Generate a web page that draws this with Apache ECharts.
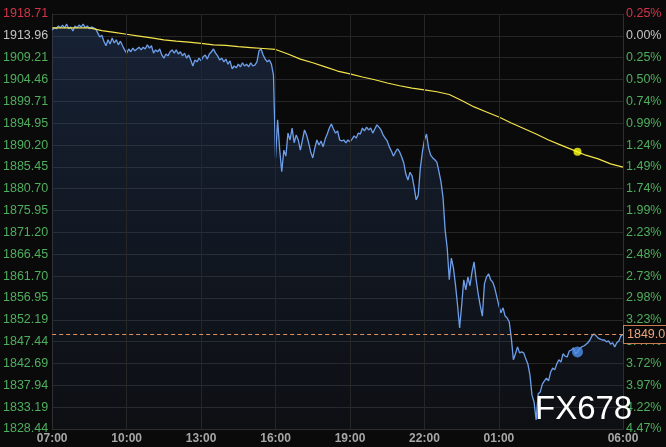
<!DOCTYPE html>
<html>
<head>
<meta charset="utf-8">
<script src="https://cdn.jsdelivr.net/npm/echarts@6/dist/echarts.min.js"></script>
<style>
html,body{margin:0;padding:0;background:#0a0a0a;}
#c{width:666px;height:447px;}
</style>
</head>
<body>
<div id="c"></div>
<script>
// ---- data ----
const startLabel = '07:00';
const priceStepMin = 5;          // one value every 5 minutes from 07:00
const priceVals = [
1915.2,1915.7,1915.5,1916.1,1915.7,1916.3,1915.7,1916.5,1915.5,1915.9,
1915.0,1916.1,1915.7,1916.3,1915.9,1916.5,1915.7,1916.1,1915.5,1915.9,
1915.7,1915.5,1914.6,1913.7,1914.1,1912.8,1911.8,1913.1,1912.2,1913.5,
1912.4,1913.1,1912.0,1912.8,1911.8,1910.9,1910.2,1911.1,1910.5,1911.3,
1910.7,1911.1,1911.5,1910.9,1911.5,1911.1,1912.0,1911.3,1911.8,1910.2,
1910.9,1910.5,1911.1,1909.8,1909.1,1910.0,1909.6,1910.5,1910.9,1910.2,
1910.9,1910.0,1910.5,1909.6,1910.2,1909.1,1909.8,1908.7,1907.4,1908.7,
1908.3,1909.1,1908.5,1909.4,1909.8,1908.9,1910.0,1910.5,1911.1,1910.2,
1909.6,1908.7,1909.1,1908.3,1908.9,1907.8,1908.5,1906.8,1907.4,1907.0,
1907.8,1907.2,1908.1,1907.4,1907.8,1907.2,1908.1,1907.4,1907.6,1908.3,
1910.7,1911.1,1909.8,1908.9,1908.3,1908.7,1907.8,1905.4,1887.4,1895.7,
1889.2,1884.4,1889.1,1887.8,1892.8,1891.3,1893.9,1890.7,1892.4,1891.3,
1889.1,1891.3,1893.5,1892.4,1890.7,1888.7,1887.4,1889.6,1891.3,1890.2,
1891.1,1889.8,1891.5,1892.6,1893.9,1894.8,1893.7,1892.8,1893.3,1891.3,
1891.1,1891.3,1890.7,1891.3,1890.9,1891.5,1892.2,1891.7,1892.8,1892.6,
1893.9,1893.3,1894.1,1893.5,1893.9,1892.8,1893.7,1894.6,1894.1,1893.5,
1892.4,1891.7,1891.1,1889.8,1888.9,1887.8,1888.7,1889.4,1888.7,1887.6,
1886.3,1883.9,1882.6,1884.3,1883.5,1881.1,1878.3,1879.3,1885.2,1888.7,
1891.3,1892.6,1889.6,1888.0,1887.4,1887.0,1886.5,1884.4,1882.2,1878.7,
1871.7,1867.8,1860.9,1865.6,1863.5,1859.8,1855.4,1850.4,1855.4,1860.9,
1858.7,1861.5,1859.6,1862.6,1864.8,1860.9,1857.8,1855.2,1853.0,1860.0,
1861.5,1862.2,1860.9,1860.4,1859.1,1857.2,1855.2,1853.7,1854.8,1853.0,
1852.6,1851.7,1848.2,1843.5,1844.8,1846.3,1845.0,1845.2,1845.0,1843.7,
1842.6,1840.2,1835.8,1834.3,1830.4,1836.1,1836.5,1838.2,1838.9,1839.5,
1838.9,1840.8,1841.7,1841.3,1842.6,1843.5,1843.0,1844.8,1844.3,1844.1,
1845.4,1845.6,1846.1,1844.8,1845.2,1845.9,1846.3,1846.5,1846.8,1847.2,
1847.8,1848.7,1849.1,1848.7,1848.2,1848.0,1847.8,1847.8,1847.4,1847.6,
1846.9,1847.2,1846.3,1847.2,1847.6,1848.7,1849.0
];
const avgStepMin = 30;           // average line, one value every 30 minutes
const avgVals = [
1915.7,1915.7,1915.7,1915.7,1915.1,1914.7,1914.3,1913.9,1913.5,1913.1,
1912.8,1912.6,1912.3,1912.0,1911.9,1911.6,1911.4,1911.2,1911.0,1910.0,
1908.9,1908.1,1907.2,1906.3,1905.7,1905.0,1904.4,1903.7,1903.1,1902.6,
1902.2,1901.8,1901.2,1899.9,1898.5,1897.4,1896.3,1895.0,1893.8,1892.6,
1891.3,1890.2,1889.1,1888.0,1887.2,1886.1,1885.4
];
const cursorMinute = 1270;       // hover position (≈04:10)
const lastLabel = '1849.07';

const yMin = 1828.44, yMax = 1918.71, ySteps = 19;
const leftTicks = ['1828.44','1833.19','1837.94','1842.69','1847.44','1852.19','1856.95','1861.70','1866.45','1871.20',
                   '1875.95','1880.70','1885.45','1890.20','1894.95','1899.71','1904.46','1909.21','1913.96','1918.71'];
const rightTicks = ['4.47%','4.22%','3.97%','3.72%','3.47%','3.23%','2.98%','2.73%','2.48%','2.23%',
                    '1.99%','1.74%','1.49%','1.24%','0.99%','0.74%','0.50%','0.25%','0.00%','0.25%'];
const xMax = 1380;
const xTickMinutes = [0,180,360,540,720,900,1080,1380];
const xTickLabels = ['07:00','10:00','13:00','16:00','19:00','22:00','01:00','06:00'];

// ---- build ----
const priceData = priceVals.map((v,i)=>[i*priceStepMin, v]);
const avgData = avgVals.map((v,j)=>[j*avgStepMin, v]);
const lastPrice = priceVals[priceVals.length-1];
const cursorPrice = priceVals[Math.round(cursorMinute/priceStepMin)];
const ja = Math.floor(cursorMinute/avgStepMin);
const fr = (cursorMinute - ja*avgStepMin)/avgStepMin;
const cursorAvg = avgVals[ja] + fr*(avgVals[ja+1]-avgVals[ja]);
const yStep = (yMax-yMin)/ySteps;
const idxOf = v => Math.round((parseFloat(v)-yMin)/yStep);
const labelColor = v => { const i = idxOf(v); return i===ySteps ? '#d4344a' : (i===ySteps-1 ? '#c4c4c4' : '#4fae5e'); };
const FONT = 'Liberation Sans, Arial, sans-serif';

const chart = echarts.init(document.getElementById('c'));
chart.setOption({
  backgroundColor: '#0a0a0a',
  animation: false,
  grid: {left: 52, right: 43, top: 14, bottom: 18},
  xAxis: {
    type: 'value', min: 0, max: xMax, interval: 60,
    axisLine: {show: true, lineStyle: {color: '#2e2e2e'}},
    axisTick: {show: false},
    splitLine: {show: false},
    axisLabel: {
      margin: 4, fontSize: 12, fontWeight: 'bold', color: '#a6a6a6', fontFamily: FONT,
      formatter: v => { const i = xTickMinutes.indexOf(Math.round(v)); return i>=0 ? xTickLabels[i] : ''; }
    }
  },
  yAxis: [{
    type: 'value', min: yMin, max: yMax, interval: yStep, position: 'left',
    axisLine: {show: true, lineStyle: {color: '#2e2e2e'}},
    axisTick: {show: false},
    splitLine: {show: true, lineStyle: {color: '#262626', width: 1}},
    axisLabel: {margin: 4, fontSize: 12.5, fontFamily: FONT, color: labelColor,
      formatter: v => leftTicks[idxOf(v)] || ''}
  },{
    type: 'value', min: yMin, max: yMax, interval: yStep, position: 'right',
    axisLine: {show: true, lineStyle: {color: '#2e2e2e'}},
    axisTick: {show: false},
    splitLine: {show: false},
    axisLabel: {margin: 3, fontSize: 12.5, fontFamily: FONT, color: labelColor,
      formatter: v => rightTicks[idxOf(v)] || ''}
  }],
  series: [{
    name: 'grid', type: 'line', data: [], silent: true, z: 1,
    markLine: {
      silent: true, symbol: 'none', animation: false,
      label: {show: false},
      lineStyle: {color: '#262626', width: 1, type: 'solid'},
      data: xTickMinutes.slice(1, -1).map(m => ({xAxis: m}))
    }
  },{
    name: 'price', type: 'line', data: priceData, showSymbol: false, z: 3,
    lineStyle: {color: '#6e9fea', width: 1.3},
    itemStyle: {color: '#6e9fea'},
    areaStyle: {
      origin: 'start',
      color: new echarts.graphic.LinearGradient(0,0,0,1,[
        {offset: 0, color: 'rgba(50,85,145,0.45)'},
        {offset: 1, color: 'rgba(50,80,135,0.10)'}
      ])
    },
    markLine: {
      silent: true, symbol: 'none', animation: false,
      lineStyle: {color: '#e0925e', width: 1, type: [4,3]},
      label: {
        position: 'end', distance: 1, formatter: lastLabel,
        color: '#f0a47a', fontSize: 12.5, fontFamily: FONT,
        backgroundColor: '#0a0a0a', borderColor: '#c97c52', borderWidth: 1,
        padding: [2, 3, 2, 3]
      },
      data: [{yAxis: lastPrice}]
    }
  },{
    name: 'avg', type: 'line', data: avgData, showSymbol: false, z: 4,
    lineStyle: {color: '#f4e44c', width: 1.2},
    itemStyle: {color: '#f4e44c'}
  },{
    name: 'cursor', type: 'scatter', z: 5, silent: true,
    data: [
      {value: [cursorMinute, cursorPrice], symbolSize: 11, itemStyle: {color: '#4f90ee'}},
      {value: [cursorMinute, cursorAvg], symbolSize: 8, itemStyle: {color: '#ffff14'}}
    ]
  }],
  graphic: [{
    type: 'text', left: 535, top: 393, z: 100,
    style: {text: 'FX678', fill: '#ffffff', font: '33px Liberation Sans, Arial, sans-serif'}
  }]
});
</script>
</body>
</html>
